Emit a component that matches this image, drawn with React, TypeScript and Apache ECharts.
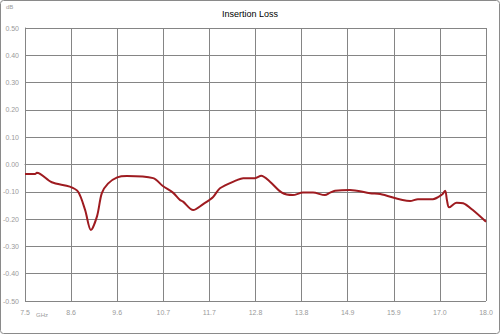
import React, { useEffect, useRef } from "react";
import * as echarts from "echarts";

const freqGHz = [7.5, 7.73, 7.77, 8.11, 8.52, 8.71, 8.87, 9.0, 9.14, 9.25, 9.39, 9.6, 9.82, 10.42, 10.64, 10.87, 11.03, 11.1, 11.33, 11.55, 11.78, 11.94, 12.33, 12.47, 12.74, 12.88, 13.08, 13.35, 13.6, 13.83, 14.06, 14.33, 14.45, 14.56, 14.9, 15.36, 15.59, 16.27, 16.45, 16.79, 17.0, 17.07, 17.11, 17.16, 17.33, 17.48, 17.7, 18.0];
const lossDb = [-0.035, -0.035, -0.03, -0.065, -0.081, -0.1, -0.167, -0.24, -0.19, -0.105, -0.07, -0.047, -0.042, -0.05, -0.079, -0.103, -0.13, -0.136, -0.167, -0.146, -0.12, -0.087, -0.057, -0.05, -0.05, -0.041, -0.063, -0.103, -0.112, -0.103, -0.103, -0.112, -0.103, -0.096, -0.093, -0.105, -0.108, -0.134, -0.127, -0.127, -0.11, -0.096, -0.13, -0.157, -0.14, -0.142, -0.167, -0.21];
const xTickLabels = ["7.5", "8.6", "9.6", "10.7", "11.7", "12.8", "13.8", "14.9", "15.9", "17.0", "18.0"];

export default function App() {
  const ref = useRef<HTMLDivElement>(null);
  useEffect(() => {
    if (!ref.current) return;
    const chart = echarts.init(ref.current, null, { renderer: "svg" });
    const labelColor = "#9a9a9a";
    const gridColor = "#858585";
    chart.setOption({
      animation: false,
      backgroundColor: "#ffffff",
      title: {
        text: "Insertion Loss",
        left: "center",
        top: 4,
        textStyle: { fontSize: 9, fontWeight: "normal", color: "#000", fontFamily: "Liberation Sans" },
      },
      grid: { left: 25, right: 14, top: 28, bottom: 33 },
      xAxis: [
        {
          type: "value",
          min: 0,
          max: xTickLabels.length - 1,
          interval: 1,
          axisLine: { show: true, lineStyle: { color: gridColor } },
          axisTick: { show: false },
          splitLine: { show: true, lineStyle: { color: gridColor, width: 1 } },
          axisLabel: {
            color: labelColor,
            fontSize: 7,
            fontFamily: "Liberation Sans",
            margin: 8,
            formatter: (v: number) => xTickLabels[Math.round(v)] ?? "",
          },
        },
        { type: "value", min: 7.5, max: 18, show: false },
      ],
      yAxis: {
        type: "value",
        min: -0.5,
        max: 0.5,
        interval: 0.1,
        axisLine: { show: true, lineStyle: { color: gridColor } },
        axisTick: { show: false },
        splitLine: { show: true, lineStyle: { color: gridColor, width: 1 } },
        axisLabel: {
          color: labelColor,
          fontSize: 7,
          fontFamily: "Liberation Sans",
          margin: 6,
          formatter: (v: number) => v.toFixed(2),
        },
      },
      graphic: [
        {
          type: "rect",
          shape: { x: 0.5, y: 0.5, width: 499, height: 333, r: 3 },
          style: { fill: "none", stroke: "#8a8a8a", lineWidth: 1 },
          silent: true,
        },
        {
          type: "line",
          shape: { x1: 486.5, y1: 28, x2: 486.5, y2: 301 },
          style: { stroke: gridColor, lineWidth: 1 },
          silent: true,
        },
        {
          type: "text",
          left: 6,
          top: 4,
          style: { text: "dB", fontSize: 6, fill: labelColor, fontFamily: "Liberation Sans" },
        },
        {
          type: "text",
          left: 36,
          top: 312,
          style: { text: "GHz", fontSize: 6, fill: labelColor, fontFamily: "Liberation Sans" },
        },
      ],
      series: [
        {
          type: "line",
          xAxisIndex: 1,
          data: freqGHz.map((f, i) => [f, lossDb[i]]),
          smooth: 0.3,
          showSymbol: false,
          lineStyle: { color: "#9e1b20", width: 2 },
        },
      ],
    });
    return () => chart.dispose();
  }, []);
  return <div ref={ref} style={{ position: "absolute", left: 0, top: 0, width: 500, height: 334 }} />;
}
